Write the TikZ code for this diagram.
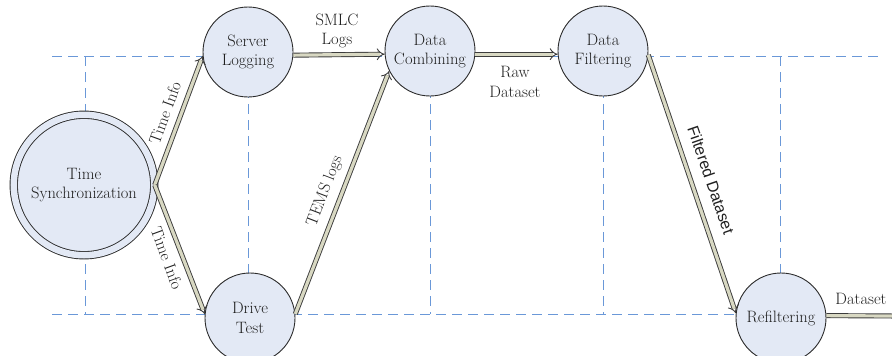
\documentclass[tikz,border=0pt]{standalone}
\usetikzlibrary{arrows.meta}
\usepackage{fontspec}
\newfontfamily\sansf{Liberation Sans}
\definecolor{circfill}{HTML}{E3E9F5}
\definecolor{circdraw}{HTML}{2B2B2B}
\definecolor{arrfill}{HTML}{D8D8C2}
\definecolor{arrdraw}{HTML}{3C3C3C}
\definecolor{dashblue}{HTML}{6A98D8}
\definecolor{txt}{HTML}{202020}
\begin{document}
\begin{tikzpicture}[x=1pt,y=-1pt,
  proc/.style={circle, draw=circdraw, fill=circfill, line width=0.9pt, minimum size=90pt, inner sep=0pt, align=center, text=txt, font=\fontsize{16.5}{19.5}\selectfont},
  flow/.style={draw=arrdraw, line width=0.9pt, double=arrfill, double distance=3.2pt, -{Implies[scale=1.3]}},
  guide/.style={draw=dashblue, line width=0.9pt, dash pattern=on 10pt off 6pt},
  lbl/.style={font=\fontsize{16.5}{19.5}\selectfont, align=center, inner sep=0pt, text=txt}]
\useasboundingbox (0,0) rectangle (892,356);
% guide lines
\draw[guide] (52,56) -- (882,56);
\draw[guide] (52,314) -- (781,314);
\foreach \x in {85,248,430,603,780} {\draw[guide] (\x,56) -- (\x,314);}
% process nodes
\node[proc, minimum size=140.5pt, double=circfill, double distance=6.5pt] (ts) at (84,185) {Time\\Synchronization};
\node[proc] (sl) at (248,52) {Server\\Logging};
\node[proc] (dt) at (250,318) {Drive\\Test};
\node[proc] (dc) at (430,51) {Data\\Combining};
\node[proc] (df) at (603,51) {Data\\Filtering};
\node[proc] (rf) at (781,318) {Refiltering};
\coordinate (out) at (892,316);
% flows
\draw[flow] (ts.east) -- (sl.185);
\draw[flow] (ts.east) -- (dt.175);
\draw[flow] (sl.-4) -- (dc.184);
\draw[flow] (dt.5) -- (dc.206);
\draw[flow] (dc.-4) -- (df.184);
\draw[flow] (df.-5) -- (rf.174);
\draw[flow, -] (rf.3) -- (out);
% labels
\node[lbl, rotate=70] (l1) at (165,113) {Time Info};
\node[lbl, rotate=-70] (l2) at (167,258) {Time Info};
\node[lbl] (l3) at (337,31) {SMLC\\Logs};
\node[lbl, rotate=69] (l4) at (325,191) {TEMS logs};
\node[lbl] (l5) at (515,82) {Raw\\Dataset};
\node[lbl, rotate=-71, font=\sansf\fontsize{16}{19}\selectfont] (l6) at (711,180) {Filtered Dataset};
\node[lbl] (l7) at (861,299) {Dataset};
\end{tikzpicture}
\end{document}
